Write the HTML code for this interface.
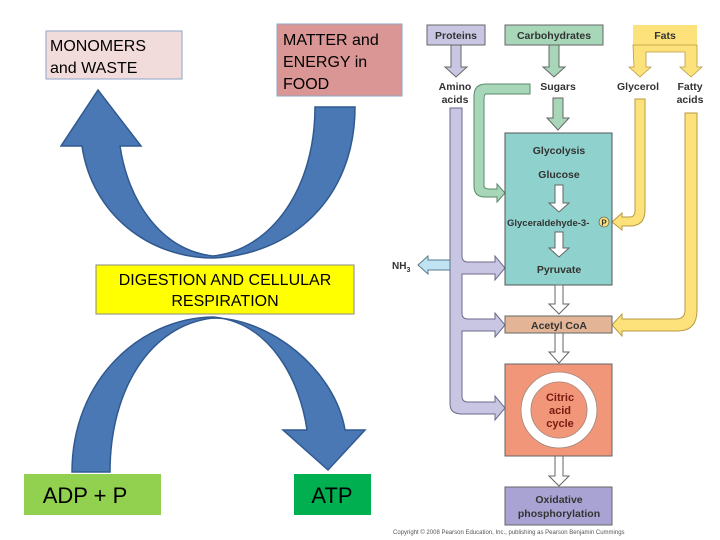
<!DOCTYPE html>
<html><head><meta charset="utf-8"><style>
html,body{margin:0;padding:0;background:#fff;}
svg{display:block;font-family:"Liberation Sans",Arial,sans-serif;}
</style></head><body>
<svg width="720" height="540" viewBox="0 0 720 540" xmlns="http://www.w3.org/2000/svg">
<!-- top U arrow -->
<path d="M315,107 C315,190 270,250 213,256 C160,250 128,200 120,146 L141,146 L98,90 L61,146 L82,146 C92,215 150,258 213,258 C290,255 355,200 355,107 Z" fill="#4a78b4" stroke="#30598f" stroke-width="1.5"/>
<!-- bottom inverted U arrow -->
<path d="M72,472 C72,380 140,318 213,317 C270,322 300,380 307,430 L283,430 L328,470 L365,430 L345,430 C335,370 270,318 213,318 C150,325 110,390 110,472 Z" fill="#4a78b4" stroke="#30598f" stroke-width="1.5"/>
<!-- boxes left -->
<rect x="46" y="31" width="136" height="48" fill="#f2dcdb" stroke="#8ea6c8"/>
<text x="50" y="51" font-size="16">MONOMERS</text>
<text x="50" y="73" font-size="16">and WASTE</text>
<rect x="277" y="24" width="125" height="72" fill="#d99694" stroke="#8ea6c8"/>
<text x="283" y="45" font-size="16">MATTER and</text>
<text x="283" y="67" font-size="16">ENERGY in</text>
<text x="283" y="89" font-size="16">FOOD</text>
<rect x="96" y="265" width="258" height="49" fill="#ffff00" stroke="#888"/>
<text x="225" y="285" font-size="16" text-anchor="middle">DIGESTION AND CELLULAR</text>
<text x="225" y="306" font-size="16" text-anchor="middle">RESPIRATION</text>
<rect x="24" y="474" width="137" height="41" fill="#92d050"/>
<text x="85" y="503" font-size="22" text-anchor="middle">ADP + P</text>
<rect x="294" y="474" width="77" height="41" fill="#00b050"/>
<text x="332" y="503" font-size="22" text-anchor="middle">ATP</text>

<!-- right diagram -->
<g font-weight="bold" font-size="10.5" fill="#333">
<g fill="#c9c6e3" stroke="#6a6a8a" stroke-width="1">
<path d="M450,108 L462,108 L462,256 Q462,262 468,262 L495,262 L495,256 L505,268 L495,280 L495,274 L462,274 L462,313 Q462,319 468,319 L495,319 L495,313 L505,325 L495,337 L495,331 L462,331 L462,396 Q462,402 468,402 L495,402 L495,396 L505,408 L495,420 L495,414 L462,414 Q450,414 450,404 Z"/>
</g>
<path d="M450,260 L428,260 L428,256 L418,265 L428,274 L428,270 L450,270 Z" fill="#bfe3f2" stroke="#5a7a8a"/>
<text x="392" y="269" font-size="10">NH<tspan font-size="7" dy="3">3</tspan></text>
<rect x="427" y="25" width="58" height="20" fill="#c9c6e3" stroke="#666"/>
<text x="456" y="39" text-anchor="middle">Proteins</text>
<rect x="505" y="25" width="98" height="20" fill="#a7d6b8" stroke="#666"/>
<text x="554" y="39" text-anchor="middle">Carbohydrates</text>
<rect x="633" y="25" width="64" height="20" fill="#fde27c"/>
<text x="665" y="39" text-anchor="middle">Fats</text>
<path d="M451,45 L461,45 L461,67 L467,67 L456,77 L445,67 L451,67 Z" fill="#c9c6e3" stroke="#666"/>
<path d="M549,45 L559,45 L559,67 L565,67 L554,77 L543,67 L549,67 Z" fill="#a7d6b8" stroke="#666"/>
<path d="M633,45 L697,45 L697,45 L697,67 L702,67 L691,77 L680,67 L685,67 L685,52 L646,52 L646,67 L651,67 L640,77 L629,67 L634,67 Z" fill="#fde27c" stroke="#b89a40" stroke-width="0.8"/>
<text x="455" y="90" text-anchor="middle">Amino</text>
<text x="455" y="103" text-anchor="middle">acids</text>
<text x="558" y="90" text-anchor="middle">Sugars</text>
<text x="638" y="90" text-anchor="middle">Glycerol</text>
<text x="690" y="90" text-anchor="middle">Fatty</text>
<text x="690" y="103" text-anchor="middle">acids</text>
<path d="M553,98 L563,98 L563,118 L569,118 L558,130 L547,118 L553,118 Z" fill="#a7d6b8" stroke="#666"/>
<path d="M530,84 L530,94 L486,94 Q484,94 484,100 L484,186 Q484,189 490,189 L497,189 L497,184 L505,193 L497,202 L497,197 L485,197 Q474,197 474,186 L474,96 Q474,84 486,84 Z" fill="#a7d6b8" stroke="#5a8a6a"/>
<path d="M635,99 L645,99 L645,210 Q645,226 630,226 L622,226 L622,230 L612,222 L622,213 L622,217 L630,217 Q635,217 635,210 Z" fill="#fde27c" stroke="#b89a40"/>
<path d="M685,113 L697,113 L697,310 Q697,331 678,331 L622,331 L622,336 L612,325 L622,314 L622,319 L676,319 Q685,319 685,310 Z" fill="#fde27c" stroke="#b89a40"/>
<rect x="505" y="133" width="107" height="152" fill="#8fd1cc" stroke="#555"/>
<text x="559" y="154" text-anchor="middle">Glycolysis</text>
<text x="559" y="178" text-anchor="middle">Glucose</text>
<path d="M555,185 L563,185 L563,203 L569,203 L559,212 L549,203 L555,203 Z" fill="#fff" stroke="#666"/>
<text x="507" y="226" font-size="9.5" font-weight="bold">Glyceraldehyde-3-</text>
<circle cx="604" cy="222" r="5" fill="#fde27c" stroke="#444" stroke-width="0.6"/>
<text x="604" y="225.5" font-size="8" text-anchor="middle">P</text>
<path d="M555,232 L563,232 L563,248 L569,248 L559,257 L549,248 L555,248 Z" fill="#fff" stroke="#666"/>
<text x="559" y="273" text-anchor="middle">Pyruvate</text>
<path d="M555,285 L563,285 L563,304 L569,304 L559,314 L549,304 L555,304 Z" fill="#fff" stroke="#666"/>
<rect x="505" y="316" width="107" height="17" fill="#e3b596" stroke="#666"/>
<text x="559" y="329" text-anchor="middle">Acetyl CoA</text>
<path d="M555,333 L563,333 L563,352 L569,352 L559,363 L549,352 L555,352 Z" fill="#fff" stroke="#666"/>
<rect x="505" y="364" width="107" height="92" fill="#f2967a" stroke="#666"/>
<circle cx="559" cy="410" r="33" fill="none" stroke="#fff" stroke-width="9"/>
<circle cx="559" cy="410" r="38" fill="none" stroke="#888" stroke-width="0.6"/>
<circle cx="559" cy="410" r="28" fill="none" stroke="#888" stroke-width="0.6"/>
<g fill="#7a1a10" font-size="11">
<text x="560" y="401" text-anchor="middle">Citric</text>
<text x="560" y="414" text-anchor="middle">acid</text>
<text x="560" y="427" text-anchor="middle">cycle</text>
</g>
<path d="M555,456 L563,456 L563,476 L569,476 L559,486 L549,476 L555,476 Z" fill="#fff" stroke="#666"/>
<rect x="505" y="487" width="107" height="38" fill="#a9a3d3" stroke="#666"/>
<text x="559" y="503" text-anchor="middle">Oxidative</text>
<text x="559" y="517" text-anchor="middle">phosphorylation</text>
</g>
<text x="393" y="534" font-size="6" fill="#555">Copyright © 2008 Pearson Education, Inc., publishing as Pearson Benjamin Cummings</text>
</svg>
</body></html>
